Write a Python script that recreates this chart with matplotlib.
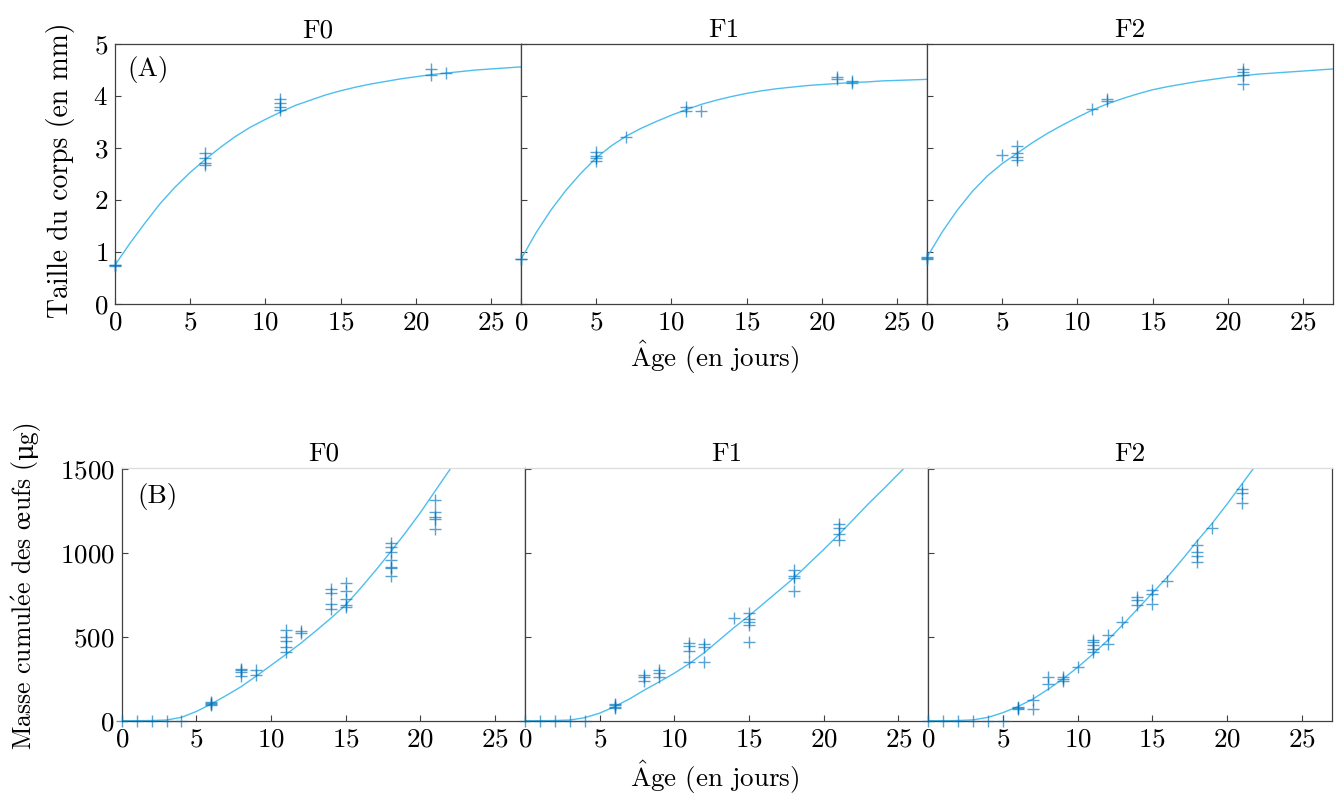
import matplotlib
matplotlib.use("Agg")
import matplotlib.pyplot as plt

plt.rcParams['font.family'] = ['cmr10', 'DejaVu Serif']
plt.rcParams['axes.formatter.use_mathtext'] = True
plt.rcParams['mathtext.fontset'] = 'cm'

gens = ["F0", "F1", "F2"]

# ---- (A) body size (mm) observations ----
sizeA_t_F0 = [0, 0, 0, 6, 6, 6, 6, 11, 11, 11, 11, 21, 21, 22]
sizeA_v_F0 = [0.75, 0.75, 0.74, 2.90, 2.80, 2.72, 2.67, 3.94, 3.87, 3.79, 3.73, 4.51, 4.40, 4.45]
sizeA_t_F1 = [0, 0, 5, 5, 5, 5, 7, 11, 11, 12, 21, 21, 22, 22]
sizeA_v_F1 = [0.86, 0.86, 2.93, 2.85, 2.81, 2.75, 3.21, 3.78, 3.71, 3.71, 4.37, 4.32, 4.28, 4.25]
sizeA_t_F2 = [0, 0, 0, 5, 6, 6, 6, 6, 11, 12, 12, 21, 21, 21, 21]
sizeA_v_F2 = [0.91, 0.88, 0.86, 2.86, 3.03, 2.91, 2.83, 2.77, 3.75, 3.94, 3.90, 4.51, 4.47, 4.40, 4.24]

# ---- (A) fitted growth curves (read every day) ----
curveA_t = list(range(0, 28))
curveA_v_F0 = [0.75, 1.17, 1.56, 1.93, 2.25, 2.53, 2.78, 3.01, 3.22, 3.40, 3.55, 3.69, 3.82, 3.92,
               4.02, 4.10, 4.17, 4.23, 4.28, 4.33, 4.37, 4.41, 4.44, 4.47, 4.50, 4.52, 4.54, 4.56]
curveA_v_F1 = [0.86, 1.37, 1.81, 2.19, 2.52, 2.81, 3.04, 3.23, 3.38, 3.51, 3.63, 3.74, 3.84, 3.92,
               3.99, 4.05, 4.10, 4.14, 4.17, 4.20, 4.22, 4.24, 4.26, 4.27, 4.29, 4.30, 4.31, 4.32]
curveA_v_F2 = [0.90, 1.38, 1.80, 2.16, 2.46, 2.70, 2.90, 3.10, 3.28, 3.44, 3.59, 3.73, 3.85, 3.95,
               4.04, 4.12, 4.18, 4.23, 4.28, 4.32, 4.36, 4.39, 4.42, 4.44, 4.46, 4.48, 4.50, 4.52]

# ---- (B) cumulated egg mass (ug) observations ----
eggB_t_F0 = [0, 1, 2, 3, 4,
             6, 6, 6, 6, 8, 8, 8, 8, 9, 9,
             11, 11, 11, 11, 11, 12, 12,
             14, 14, 14, 14, 15, 15, 15, 15, 15,
             18, 18, 18, 18, 18, 18, 18, 21, 21, 21, 21, 21]
eggB_v_F0 = [0, 0, 0, 0, 0,
             113, 103, 98, 93, 310, 300, 292, 266, 302, 272,
             540, 500, 476, 436, 411, 534, 524,
             782, 758, 694, 663, 822, 774, 722, 688, 678,
             1056, 1032, 1006, 957, 917, 907, 861, 1313, 1244, 1214, 1200, 1139]
eggB_t_F1 = [0, 1, 2, 3, 4,
             6, 6, 6, 6, 8, 8, 8, 9, 9, 9,
             11, 11, 11, 11, 12, 12, 12, 14,
             15, 15, 15, 15, 15, 18, 18, 18, 18, 21, 21, 21, 21]
eggB_v_F1 = [0, 0, 0, 0, 0,
             100, 94, 84, 74, 275, 259, 235, 299, 283, 259,
             462, 442, 418, 347, 458, 438, 351, 614,
             641, 608, 588, 568, 468, 896, 861, 847, 773, 1171, 1149, 1112, 1076]
eggB_t_F2 = [0, 1, 2, 3, 4, 5,
             6, 6, 6, 7, 7, 8, 8, 9, 9, 9, 10,
             11, 11, 11, 11, 11, 12, 12, 13, 14, 14, 14, 15, 15, 15, 16,
             18, 18, 18, 18, 19, 21, 21, 21]
eggB_v_F2 = [0, 0, 0, 0, 0, 0,
             80, 76, 68, 124, 70, 259, 219, 259, 249, 239, 319,
             478, 468, 448, 428, 412, 512, 458, 588, 737, 717, 687, 777, 753, 697, 833,
             1046, 1006, 980, 946, 1145, 1378, 1359, 1299]

# ---- (B) fitted curves ----
curveB_t_F0 = list(range(0, 24))
curveB_v_F0 = [0, 0, 1, 4, 20, 55, 100, 150, 203, 265, 330, 395, 462, 535, 610, 690,
               790, 895, 1005, 1120, 1240, 1370, 1500, 1630]
curveB_t_F1 = list(range(0, 28))
curveB_v_F1 = [0, 0, 1, 4, 18, 45, 84, 130, 183, 232, 283, 340, 405, 480, 555, 625,
               700, 775, 850, 935, 1020, 1108, 1200, 1293, 1380, 1470, 1560, 1650]
curveB_t_F2 = list(range(0, 24))
curveB_v_F2 = [0, 0, 1, 5, 20, 48, 84, 129, 186, 248, 318, 395, 478, 570, 665, 760,
               855, 960, 1070, 1175, 1290, 1410, 1530, 1650]

sizeA = [(sizeA_t_F0, sizeA_v_F0), (sizeA_t_F1, sizeA_v_F1), (sizeA_t_F2, sizeA_v_F2)]
curveA = [(curveA_t, curveA_v_F0), (curveA_t, curveA_v_F1), (curveA_t, curveA_v_F2)]
eggB = [(eggB_t_F0, eggB_v_F0), (eggB_t_F1, eggB_v_F1), (eggB_t_F2, eggB_v_F2)]
curveB = [(curveB_t_F0, curveB_v_F0), (curveB_t_F1, curveB_v_F1), (curveB_t_F2, curveB_v_F2)]

xticks = [0, 5, 10, 15, 20, 25]
yticksA = [0, 1, 2, 3, 4, 5]
yticksB = [0, 500, 1000, 1500]

LINE_C = '#4DBEEE'
MARK_C = '#0072BD'
SPINE_C = '#404040'
FS = 19.5

W, H = 1338, 798
fig = plt.figure(figsize=(W / 100, H / 100), dpi=100)

def fx(px):
    return px / W

def fy(py):
    return 1 - py / H

topA_left = [115, 521, 927]
topA_w = 406
topA_top, topA_bot = 44, 304
botB_left = [121.7, 525, 928.3]
botB_w = 403.3
botB_top, botB_bot = 467.5, 720.7

def style(ax, light_top=False):
    for s in ax.spines.values():
        s.set_color(SPINE_C)
        s.set_linewidth(0.9)
    if light_top:
        ax.spines['top'].set_color('#dddddd')
    ax.tick_params(direction='in', length=4, width=0.8, color=SPINE_C,
                   labelsize=FS, pad=5, top=False, right=False)

for i in range(3):
    ax = fig.add_axes([fx(topA_left[i]), fy(topA_bot), fx(topA_w), (topA_bot - topA_top) / H])
    ct, cv = curveA[i]
    ax.plot(ct, cv, color=LINE_C, lw=1.0, zorder=2)
    pt, pv = sizeA[i]
    ax.plot(pt, pv, linestyle='none', marker='+', ms=8, mew=1.0, color=MARK_C,
            alpha=0.65, clip_on=False, zorder=4)
    ax.set_xlim(0, 27)
    ax.set_ylim(0, 5)
    ax.set_xticks(xticks)
    ax.set_yticks(yticksA)
    style(ax)
    if i > 0:
        ax.set_yticklabels([])
    ax.set_title(gens[i], fontsize=FS, pad=5)
    if i == 0:
        ax.text(0.03, 0.955, "(A)", transform=ax.transAxes, fontsize=FS, va='top', ha='left')

for i in range(3):
    ax = fig.add_axes([fx(botB_left[i]), fy(botB_bot), fx(botB_w), (botB_bot - botB_top) / H])
    ct, cv = curveB[i]
    ax.plot(ct, cv, color=LINE_C, lw=1.0, zorder=2)
    pt, pv = eggB[i]
    ax.plot(pt, pv, linestyle='none', marker='+', ms=8, mew=1.0, color=MARK_C,
            alpha=0.65, clip_on=False, zorder=4)
    ax.set_xlim(0, 27)
    ax.set_ylim(0, 1508)
    ax.set_xticks(xticks)
    ax.set_yticks(yticksB)
    style(ax, light_top=True)
    if i > 0:
        ax.set_yticklabels([])
    ax.set_title(gens[i], fontsize=FS, pad=5)
    if i == 0:
        ax.text(0.038, 0.94, "(B)", transform=ax.transAxes, fontsize=FS, va='top', ha='left')

renderer = fig.canvas.get_renderer()

xlabel_txt = r"$\hat{\mathrm{A}}$ge (en jours)"
fig.text(fx(715), fy(357), xlabel_txt, ha='center', va='center', fontsize=FS)
fig.text(fx(715), fy(777), xlabel_txt, ha='center', va='center', fontsize=FS)

# top y label: fit its length to the reference span (y 23 .. 318 px)
tTop = fig.text(fx(60), fy(170.5), "Taille du corps (en mm)", rotation=90,
                ha='center', va='center', fontsize=FS)
lenTop = tTop.get_window_extent(renderer).height
tTop.set_fontsize(FS * 295.0 / lenTop)

# bottom y label in two pieces (mathtext accents + plain micro sign), baseline-aligned
partA = r"Masse cumul$\acute{\mathrm{e}}$e des $\mathrm{\oe}$ufs ("
partB = "\u03bcg)"
base_x = 32.0
center_y = H - 585.0
target_len = 330.0
tA = fig.text(0, 0, partA, rotation=90, rotation_mode='anchor', ha='left', va='baseline',
              fontsize=FS, transform=None)
tB = fig.text(0, 0, partB, rotation=90, rotation_mode='anchor', ha='left', va='baseline',
              fontsize=FS, transform=None)
lenA = tA.get_window_extent(renderer).height
lenB = tB.get_window_extent(renderer).height
fs_b = FS * target_len / (lenA + lenB)
tA.set_fontsize(fs_b)
tB.set_fontsize(fs_b)
lenA = tA.get_window_extent(renderer).height
lenB = tB.get_window_extent(renderer).height
y0 = center_y - (lenA + lenB) / 2
tA.set_position((base_x, y0))
tB.set_position((base_x, y0 + lenA))

fig.savefig("out.png", dpi=100)
